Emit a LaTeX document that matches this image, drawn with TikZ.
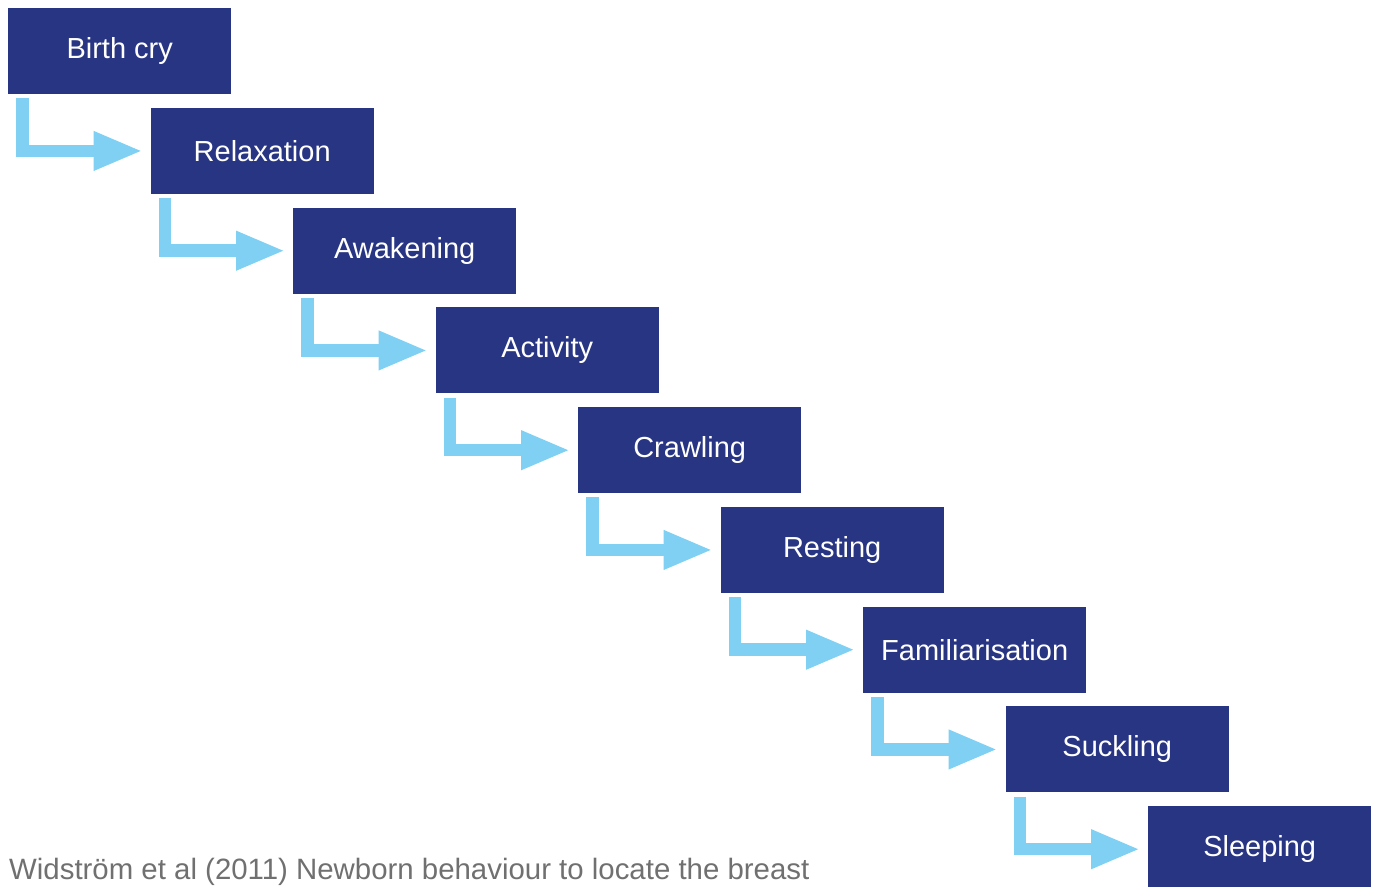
\documentclass[tikz,border=0pt]{standalone}
\usepackage{fontspec}
\setmainfont{Liberation Sans}
\usetikzlibrary{arrows.meta,calc}
\definecolor{boxblue}{RGB}{40,53,131}
\definecolor{arrowblue}{RGB}{128,208,244}
\definecolor{capgray}{RGB}{112,112,112}
\begin{document}
\begin{tikzpicture}[x=1pt,y=-1pt,
  stage/.style={fill=boxblue,text=white,minimum width=223pt,minimum height=86pt,
    inner sep=0pt,anchor=north west,font=\fontsize{29}{34}\selectfont},
  flow/.style={draw=arrowblue,line width=12.5pt,line join=miter,
    -{Triangle[length=49.5pt,width=36pt]}}]
\useasboundingbox (0,0) rectangle (1375,886);
\clip (0,0) rectangle (1375,886);
\foreach \n/\t [count=\i from 0] in {b0/Birth cry,b1/Relaxation,b2/Awakening,b3/Activity,b4/Crawling,b5/Resting,b6/Familiarisation,b7/Suckling,b8/Sleeping}{
  \node[stage] (\n) at ({8+142.5*\i},{8+99.75*\i}) {\t};
}
\foreach \a/\b in {b0/b1,b1/b2,b2/b3,b3/b4,b4/b5,b5/b6,b6/b7,b7/b8}{
  \draw[flow] ($(\a.south west)+(14.5,4)$) |- ($(\b.west)+(-7.5,0)$);
}
\node[anchor=base west,inner sep=0pt,text=capgray,font=\fontsize{29.4}{34}\selectfont] (cap) at (9,879) {Widström et al (2011) Newborn behaviour to locate the breast};
\end{tikzpicture}
\end{document}
